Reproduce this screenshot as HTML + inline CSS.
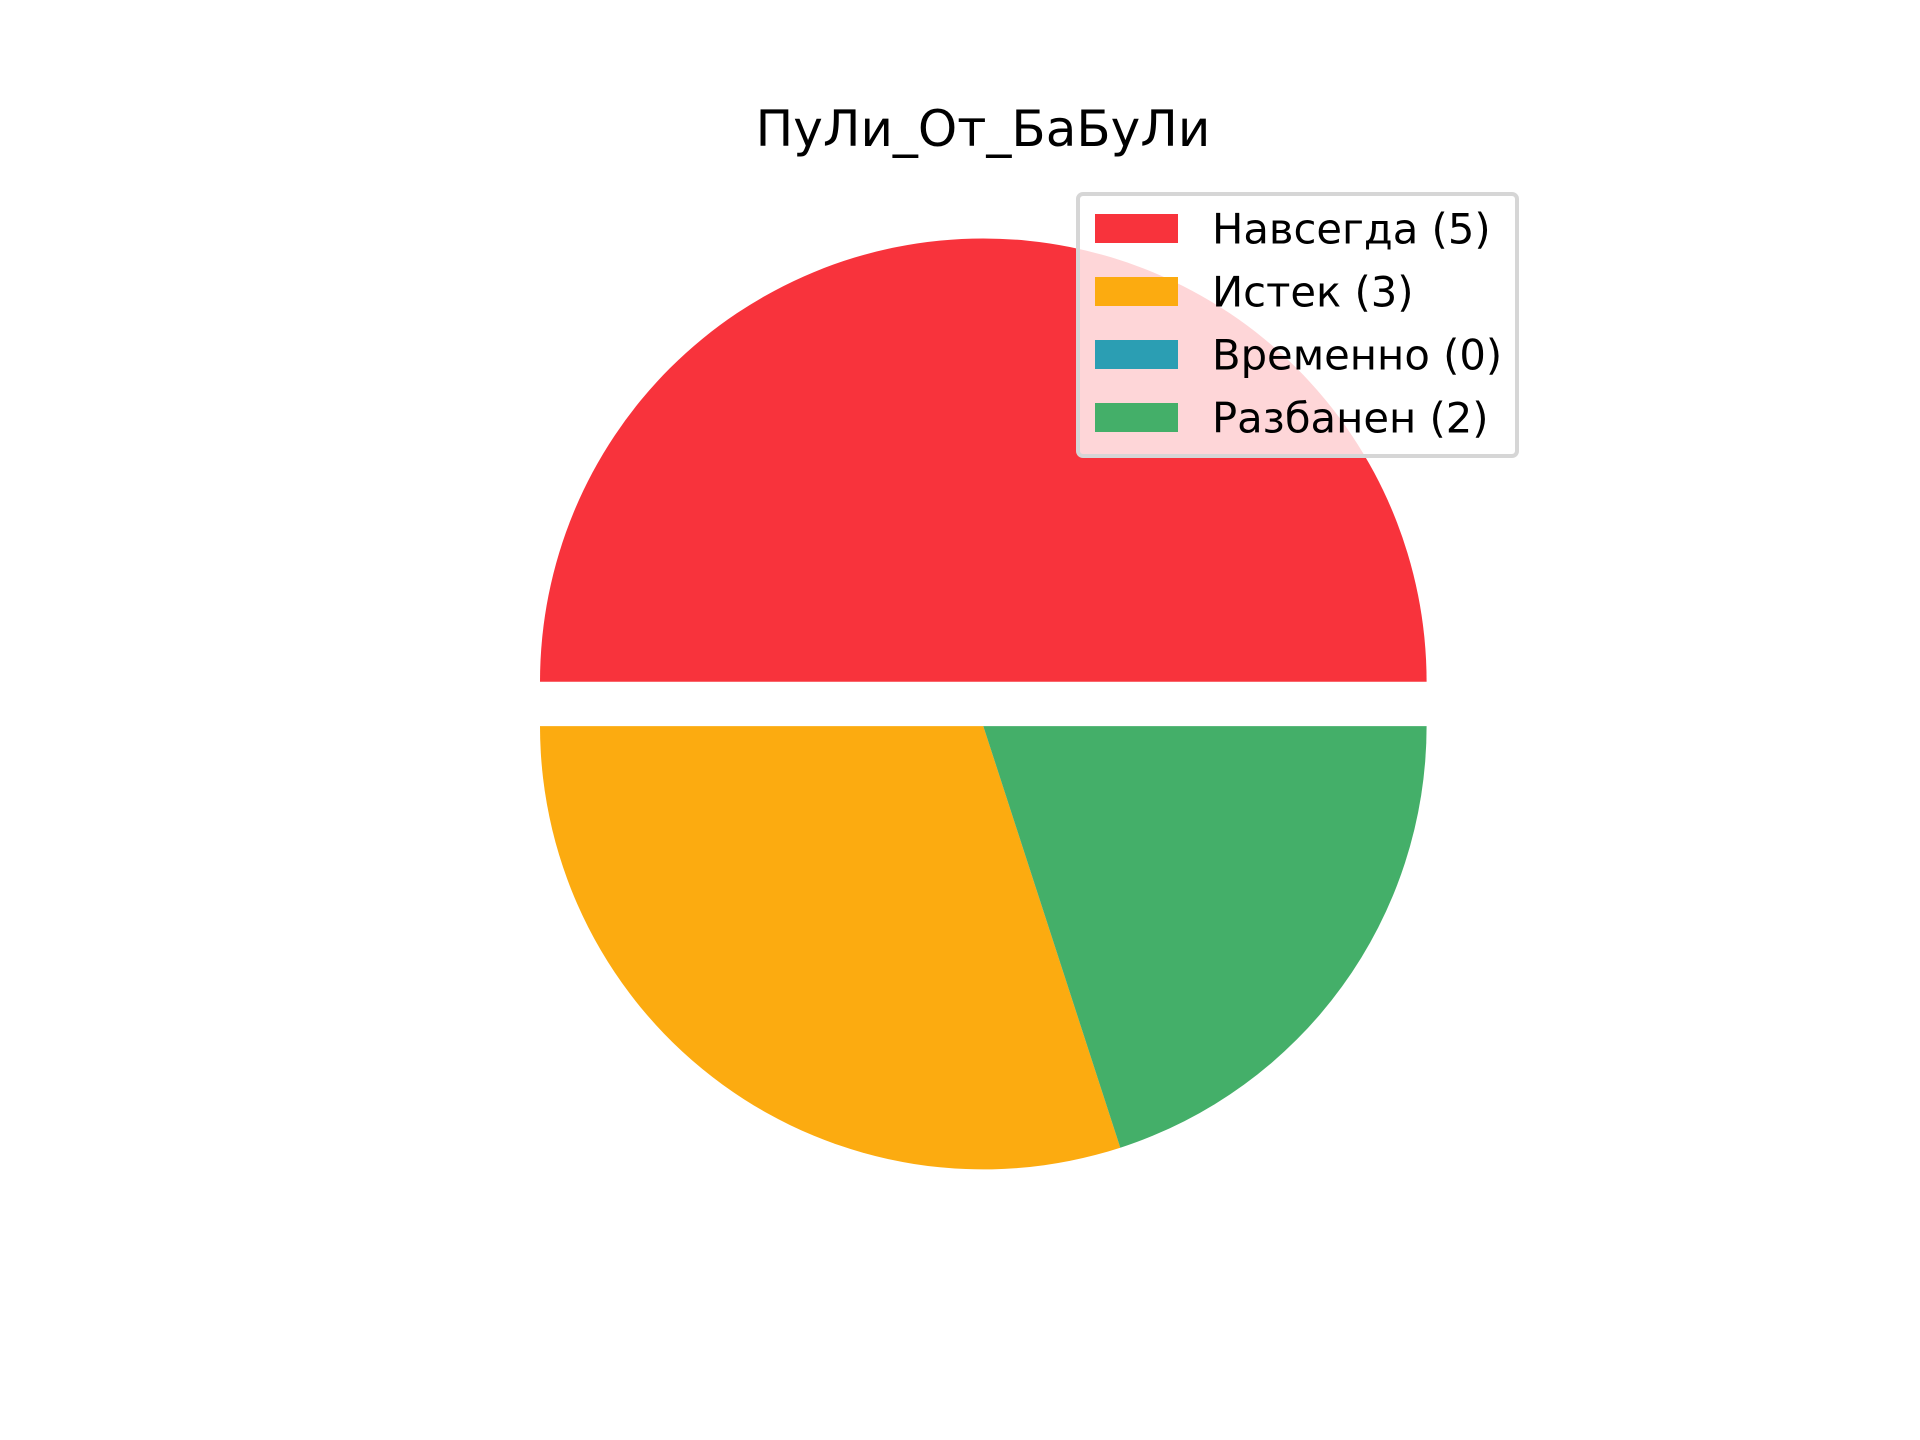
<!DOCTYPE html>
<html><head><meta charset="utf-8"><style>
html,body{margin:0;padding:0;background:#fff;}
svg{display:block;font-family:"DejaVu Sans","Liberation Sans",sans-serif;}
</style></head><body>
<svg id="chart" width="1920" height="1440" viewBox="0 0 1920 1440" xmlns="http://www.w3.org/2000/svg">
<rect width="1920" height="1440" fill="#fff"/>
<text x="983" y="146" font-size="50" text-anchor="middle" fill="#000">ПуЛи_От_БаБуЛи</text>
<g id="slices"></g>
<g id="legend"></g>
</svg>
<script>
const labels = ["Навсегда (5)", "Истек (3)", "Временно (0)", "Разбанен (2)"];
const values = [5, 3, 0, 2];
const explode = [0.1, 0, 0, 0];
const colors = ["#f8333c", "#fcab10", "#2b9eb3", "#44af69"];
const sliceNames = ["slice-navsegda", "slice-istek", "slice-vremenno", "slice-razbanen"];

const NS = "http://www.w3.org/2000/svg";
const cx = 983.3, cy = 726.1, R = 443.3;
const total = values.reduce((a, b) => a + b, 0);
const gS = document.getElementById("slices");
let a0 = 0;
values.forEach((v, i) => {
  const frac = v / total;
  const a1 = a0 + frac * 2 * Math.PI;
  if (v > 0) {
    const mid = (a0 + a1) / 2;
    const ox = cx + explode[i] * R * Math.cos(mid);
    const oy = cy - explode[i] * R * Math.sin(mid);
    const x0 = ox + R * Math.cos(a0), y0 = oy - R * Math.sin(a0);
    const x1 = ox + R * Math.cos(a1), y1 = oy - R * Math.sin(a1);
    const large = (a1 - a0) > Math.PI ? 1 : 0;
    const p = document.createElementNS(NS, "path");
    p.setAttribute("d", `M${ox},${oy} L${x0},${y0} A${R},${R} 0 ${large} 0 ${x1},${y1} Z`);
    p.setAttribute("fill", colors[i]);
    
    
    gS.appendChild(p);
  }
  a0 = a1;
});

const gL = document.getElementById("legend");
const box = document.createElementNS(NS, "rect");
box.setAttribute("x", 1078); box.setAttribute("y", 194);
box.setAttribute("width", 439); box.setAttribute("height", 262);
box.setAttribute("rx", 5);
box.setAttribute("fill", "rgba(255,255,255,0.8)");
box.setAttribute("stroke", "#d6d6d6"); box.setAttribute("stroke-width", 4);


gL.appendChild(box);
labels.forEach((t, i) => {
  const yc = 228.5 + i * 63;
  const r = document.createElementNS(NS, "rect");
  r.setAttribute("x", 1095); r.setAttribute("y", yc - 14.5);
  r.setAttribute("width", 83); r.setAttribute("height", 29);
  r.setAttribute("fill", colors[i]);
  
  
  gL.appendChild(r);
  const tx = document.createElementNS(NS, "text");
  tx.setAttribute("x", 1212); tx.setAttribute("y", yc + 15);
  tx.setAttribute("font-size", 41.7);
  tx.setAttribute("fill", "#000");
  tx.textContent = t;
  
  
  gL.appendChild(tx);
});
</script>
</body></html>
